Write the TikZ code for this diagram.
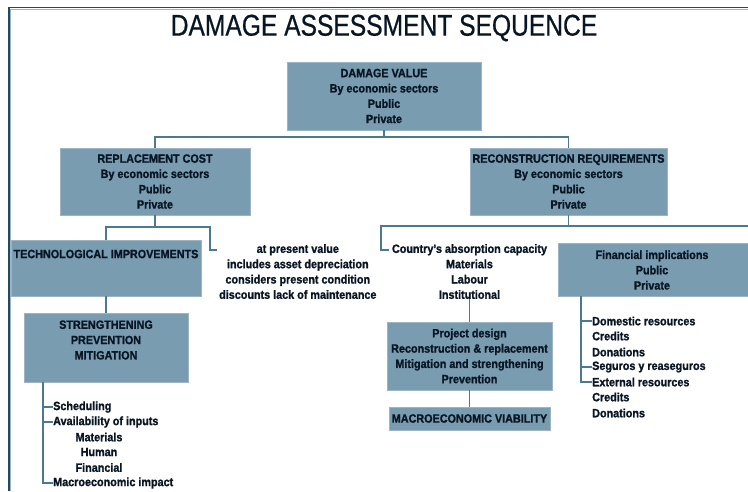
\documentclass[tikz,border=0pt]{standalone}
\usepackage{fontspec}
\setmainfont{Liberation Sans}[FakeStretch=0.9,BoldFeatures={FakeBold=1.2}]
\newfontfamily\titlefont{Liberation Sans}[FakeStretch=0.82,FakeBold=0.6]
\definecolor{boxfill}{HTML}{7A9CB0}
\definecolor{boxline}{HTML}{9DB5C3}
\definecolor{conncol}{HTML}{4C7890}
\definecolor{txtcol}{HTML}{081624}
\definecolor{framecol}{HTML}{1F4A60}
\begin{document}
\begin{tikzpicture}[x=1pt,y=-1pt,
  box/.style={rectangle,fill=boxfill,draw=boxline,line width=0.8pt,inner sep=0pt},
  txt/.style={inner sep=0pt,font=\fontsize{12}{15.3}\selectfont\bfseries,text=txtcol,align=center},
  ltxt/.style={inner sep=0pt,font=\fontsize{12}{15.3}\selectfont\bfseries,text=txtcol,anchor=west},
  conn/.style={draw=conncol,line width=1.7pt}]
\useasboundingbox (0,0) rectangle (748,491);
\fill[white] (0,0) rectangle (748,491);
% frame
\draw[framecol,line width=1.6pt] (9,491) -- (9,7.5) -- (748,7.5);
\draw[boxline,line width=0.6pt] (10.6,491) -- (10.6,9) -- (748,9);
% title
\node[inner sep=0pt,text=txtcol,font=\titlefont\fontsize{30}{30}\selectfont] (title) at (384,28) {DAMAGE ASSESSMENT SEQUENCE};
% boxes
\node[box,minimum width=194pt,minimum height=68pt] (dv) at (384,96) {};
\node[txt] (dvt) at (dv.center) {DAMAGE VALUE\\By economic sectors\\Public\\Private};
\node[box,minimum width=190pt,minimum height=67pt] (rc) at (155,181.5) {};
\node[txt] (rct) at (rc.center) {REPLACEMENT COST\\By economic sectors\\Public\\Private};
\node[box,minimum width=197pt,minimum height=67pt] (rr) at (568.5,181.5) {};
\node[txt] (rrt) at (rr.center) {RECONSTRUCTION REQUIREMENTS\\By economic sectors\\Public\\Private};
\node[box,minimum width=190pt,minimum height=56pt] (tech) at (106,268) {};
\node[txt] (techt) at (106,254) {TECHNOLOGICAL IMPROVEMENTS};
\node[box,minimum width=164pt,minimum height=69pt] (str) at (106,347.5) {};
\node[txt] (strt) at (106,340) {STRENGTHENING\\PREVENTION\\MITIGATION};
\node[box,minimum width=165pt,minimum height=68pt] (pd) at (469.5,356) {};
\node[txt] (pdt) at (pd.center) {Project design\\Reconstruction \& replacement\\Mitigation and strengthening\\Prevention};
\node[box,minimum width=161pt,minimum height=23pt] (mv) at (469.5,418.5) {};
\node[txt] (mvt) at (mv.center) {MACROECONOMIC VIABILITY};
\node[box,minimum width=192pt,minimum height=53pt] (fin) at (654,269.5) {};
\node[txt] (fint) at (652,270) {Financial implications\\Public\\Private};
% free texts
\node[txt,anchor=north west] (apv) at (219,244) {at present value\\includes asset depreciation\\considers present condition\\discounts lack of maintenance};
\node[txt,anchor=north] (cty) at (469.5,244) {Country's absorption capacity\\Materials\\Labour\\Institutional};
% left list
\node[ltxt] (sch) at (53,407) {Scheduling};
\node[ltxt] (avi) at (53,422) {Availability of inputs};
\node[txt] (mat) at (99,437) {Materials};
\node[txt] (hum) at (99,452) {Human};
\node[txt] (fnc) at (99,467.5) {Financial};
\node[ltxt] (mim) at (53,483) {Macroeconomic impact};
% right list
\node[ltxt] (dom) at (592,321) {Domestic resources};
\node[ltxt] (cr1) at (592,336) {Credits};
\node[ltxt] (do1) at (592,352) {Donations};
\node[ltxt] (seg) at (592,367) {Seguros y reaseguros};
\node[ltxt] (ext) at (592,382) {External resources};
\node[ltxt] (cr2) at (592,397) {Credits};
\node[ltxt] (do2) at (592,413) {Donations};
% coordinates
\coordinate (j1) at (384,137);
\coordinate (j2) at (155,227);
\coordinate (j2r) at (210,227);
\coordinate (apvtick) at (217,250);
\coordinate (j3) at (568.5,226);
\coordinate (j3l) at (381,226);
\coordinate (j3r) at (748,226);
\coordinate (ctytick) at (389,250);
\coordinate (s0) at (43,382);
\coordinate (f0) at (581,296);
% connectors
\draw[conn] (dv.south) -- (j1) -| (rc.north);
\draw[conn] (j1) -| (rr.north);
\draw[conn] (rc.south) -- (j2) -| (tech.north);
\draw[conn] (j2) -- (j2r) |- (apvtick);
\draw[conn] (tech.south) -- (str.north);
\draw[conn] (s0) |- (sch.west);
\draw[conn] (s0) |- (avi.west);
\draw[conn] (s0) |- (mim.west);
\draw[conn] (rr.south) -- (j3) -- (j3l) |- (ctytick);
\draw[conn] (j3) -- (j3r);
\draw[conn] (cty.south) -- (pd.north);
\draw[conn] (pd.south) -- (mv.north);
\draw[conn] (f0) |- (dom.west);
\draw[conn] (f0) |- (seg.west);
\draw[conn] (f0) |- (ext.west);
\end{tikzpicture}
\end{document}
